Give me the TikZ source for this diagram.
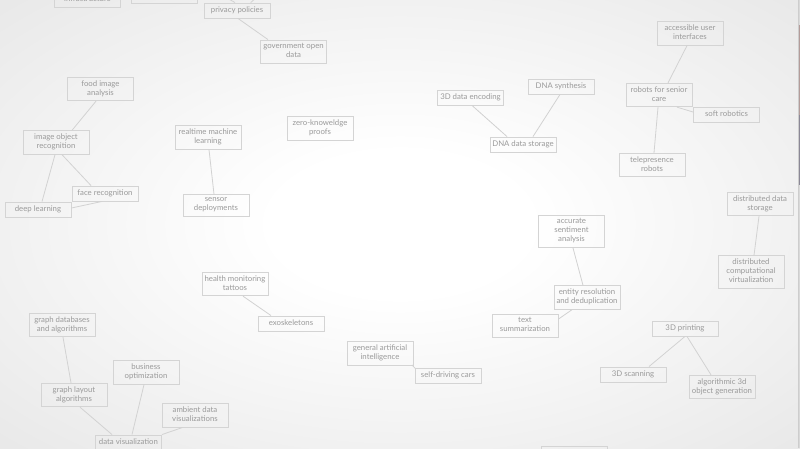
\documentclass[tikz,border=0pt]{standalone}
\usepackage{fontspec}
\setmainfont{Lato}
\definecolor{paperedge}{HTML}{E8E8E8}
\definecolor{boxline}{HTML}{D4D4D4}
\definecolor{linkc}{HTML}{D2D2D2}
\definecolor{ink}{HTML}{9A9A9A}
\definecolor{rimline}{HTML}{CDCDCD}
\definecolor{rimbase}{HTML}{D9D9D9}
\definecolor{rimwarm}{HTML}{B39C9A}
\definecolor{rimcool}{HTML}{8B8896}
\pgfdeclareradialshading{paper}{\pgfpoint{0bp}{0bp}}{color(0bp)=(white); color(8bp)=(white); color(36bp)=(paperedge); color(50bp)=(paperedge)}
\begin{document}
\begin{tikzpicture}[x=1pt,y=-1pt,
  box/.style={draw=boxline, line width=0.9pt, text=ink,
    font=\fontsize{7.8}{9}\selectfont, align=center, minimum width=66pt,
    inner xsep=1pt, inner ysep=3pt,
    execute at begin node=\strut, execute at end node=\strut},
  link/.style={draw=linkc, line width=0.8pt}]
% page and paper
\useasboundingbox (0,0) rectangle (800,448);
\clip (0,0) rectangle (800,448);
\shade[shading=paper] (0,0) rectangle (800,448);
% window rim on the right
\draw[rimline, line width=0.8pt] (798.4,0) -- (798.4,448);
\fill[rimbase] (799,0) rectangle (800,448);
\fill[rimwarm] (799,25) rectangle (800,115);
\fill[rimcool] (799,115) rectangle (800,185);

% topics
\node[box] (infra) at (87.5,-0.5) {infrastructure};
\node[box] (blankA) at (164,-4) {};
\node[box] (pp) at (237,10.5) {privacy policies};
\node[box] (gov) at (293.5,51.5) {government open\\data};
\node[box] (food) at (100.5,89) {food image\\analysis};
\node[box] (ior) at (56,142.5) {image object\\recognition};
\node[box] (face) at (105,193.5) {face recognition};
\node[box] (deep) at (38,209.5) {deep learning};
\node[box] (rml) at (208,137.5) {realtime machine\\learning};
\node[box] (zkp) at (320,128.5) {zero-knoweldge\\proofs};
\node[box] (sensor) at (216,205.5) {sensor\\deployments};
\node[box] (hmt) at (235,284) {health monitoring\\tattoos};
\node[box] (exo) at (291,323.5) {exoskeletons};
\node[box] (gdb) at (62,325) {graph databases\\and algorithms};
\node[box] (gla) at (74,395) {graph layout\\algorithms};
\node[box] (bo) at (146,372.5) {business\\optimization};
\node[box] (adv) at (195,415.5) {ambient data\\visualizations};
\node[box] (dv) at (128.5,442.5) {data visualization};
\node[box] (gai) at (380,353.5) {general artificial\\intelligence};
\node[box] (sdc) at (448,376) {self-driving cars};
\node[box] (aui) at (690,33.5) {accessible user\\interfaces};
\node[box] (rsc) at (659,95) {robots for senior\\care};
\node[box] (soft) at (726.5,114.5) {soft robotics};
\node[box] (tele) at (652,165) {telepresence\\robots};
\node[box] (enc) at (470.5,97.5) {3D data encoding};
\node[box] (syn) at (561,86.5) {DNA synthesis};
\node[box] (dns) at (523,144.5) {DNA data storage};
\node[box] (dds) at (760,204) {distributed data\\storage};
\node[box] (dcv) at (751,272) {distributed\\computational\\virtualization};
\node[box] (asa) at (571.5,231.5) {accurate\\sentiment\\analysis};
\node[box] (erd) at (587,297.5) {entity resolution\\and deduplication};
\node[box] (ts) at (525,326) {text\\summarization};
\node[box] (p3d) at (685,328.5) {3D printing};
\node[box] (s3d) at (633,374.5) {3D scanning};
\node[box] (alg) at (722,387) {algorithmic 3d\\object generation};
\node[box] (blankB) at (574.5,453.5) {};

% links coming in from above the page
\coordinate (upL) at (213,-10);
\coordinate (upR) at (265,-10);

% links
\draw[link] (upL) -- ([xshift=-2pt]pp.north);
\draw[link] (upR) -- ([xshift=13.7pt]pp.north);
\draw[link] ([xshift=1pt]pp.south) -- ([xshift=-25.5pt]gov.north);
\draw[link] ([xshift=-4.5pt]food.south) -- ([xshift=16pt]ior.north);
\draw[link] ([xshift=-1pt]ior.south) -- ([xshift=4pt]deep.north);
\draw[link] ([xshift=6pt]ior.south) -- ([xshift=-14pt]face.north);
\draw[link] ([yshift=1.5pt]deep.east) -- ([xshift=-3pt]face.south);
\draw[link] ([xshift=1pt]rml.south) -- ([xshift=-2pt]sensor.north);
\draw[link] ([xshift=8pt]hmt.south) -- ([xshift=-20pt]exo.north);
\draw[link] ([xshift=1pt]gdb.south) -- ([xshift=-3pt]gla.north);
\draw[link] ([xshift=6pt]gla.south) -- ([xshift=-16.5pt]dv.north);
\draw[link] ([xshift=-2pt]bo.south) -- ([xshift=3.5pt]dv.north);
\draw[link] ([xshift=-13pt]adv.south) -- (dv.north east);
\draw[link] ([xshift=-1.5pt,yshift=0.8pt]gai.south east) -- ([xshift=0.8pt,yshift=-0.5pt]sdc.north west);
\draw[link] ([xshift=-3pt]aui.south) -- ([xshift=9pt]rsc.north);
\draw[link] ([xshift=18pt]rsc.south) -- ([yshift=2.5pt]soft.west);
\draw[link] ([xshift=-1pt]rsc.south) -- ([xshift=2pt]tele.north);
\draw[link] ([xshift=1.5pt]enc.south) -- ([xshift=-16pt]dns.north);
\draw[link] ([xshift=-1pt]syn.south) -- ([xshift=10pt]dns.north);
\draw[link] ([xshift=-1pt]dds.south) -- ([xshift=3pt]dcv.north);
\draw[link] ([xshift=1.5pt]asa.south) -- ([xshift=-4pt]erd.north);
\draw[link] ([xshift=-15pt]erd.south) -- ([yshift=-5pt]ts.north east);
\draw[link] (p3d.south) -- ([xshift=16pt]s3d.north);
\draw[link] ([xshift=2pt]p3d.south) -- ([xshift=-11pt]alg.north);
\end{tikzpicture}
\end{document}
